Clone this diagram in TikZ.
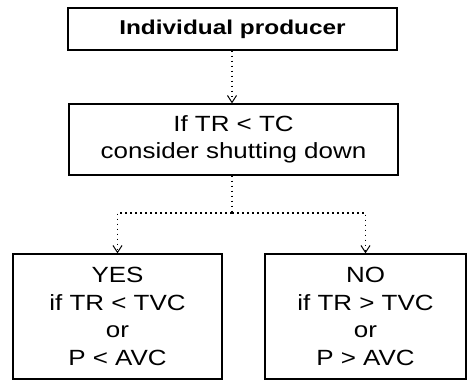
\documentclass[tikz,border=0pt]{standalone}
\usepackage{fontspec}
\setmainfont{Liberation Sans}[FakeStretch=1.18]
\newfontfamily\boldf{Liberation Sans Bold}[FakeStretch=1.22]
\usetikzlibrary{arrows.meta}
\begin{document}
\begin{tikzpicture}[x=1pt,y=-1pt,
  box/.style={draw,line width=1.2pt,inner sep=0pt,align=center,
    font=\fontsize{22}{27.5}\selectfont},
  link/.style={line width=1.2pt,dash pattern=on 1.6pt off 3.4pt,
    -{Straight Barb[length=7pt,width=9pt,line width=1pt]}},
  plain/.style={line width=1.2pt,dash pattern=on 1.6pt off 3.4pt}]
\useasboundingbox (0,0) rectangle (468,381);
\node[box,minimum width=329pt,minimum height=42pt,
  font=\boldf\fontsize{20}{24}\selectfont] (top) at (232.5,29) {Individual producer};
\node[box,minimum width=329pt,minimum height=71pt] (mid) at (233.5,139.5)
  {If TR < TC\\consider shutting down};
\node[box,minimum width=209pt,minimum height=125pt] (yes) at (117.5,316.5)
  {YES\\if TR < TVC\\or\\P < AVC};
\node[box,minimum width=201pt,minimum height=125pt] (no) at (365.5,316.5)
  {NO\\if TR > TVC\\or\\P > AVC};
\draw[link] (top.south -| 232,0) -- (mid.north -| 232,0);
\coordinate (j) at (232,213);
\draw[plain] (mid.south -| j) -- (j);
\draw[link] (j) -| (yes.north);
\draw[link] (j) -| (no.north);
\end{tikzpicture}
\end{document}
